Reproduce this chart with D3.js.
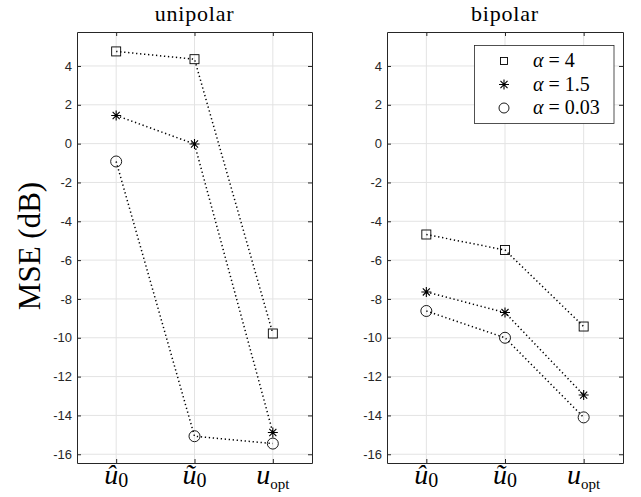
<!DOCTYPE html>
<html>
<head>
<meta charset="utf-8">
<script src="https://cdn.jsdelivr.net/npm/d3@7"></script>
<style>
  body { margin: 0; background: #fff; }
</style>
</head>
<body>
<div class="center"></div>
<script>
// categories along x
const categories = ["u0hat", "u0tilde", "uopt"];
const yTicks = [-16, -14, -12, -10, -8, -6, -4, -2, 0, 2, 4];

// MSE (dB)
const uniSquare = [4.75, 4.35, -9.78];
const uniStar = [1.45, -0.02, -14.88];
const uniCircle = [-0.92, -15.07, -15.45];
const biSquare = [-4.68, -5.48, -9.42];
const biStar = [-7.64, -8.7, -12.95];
const biCircle = [-8.62, -10.0, -14.1];

const legendLabels = ["4", "1.5", "0.03"];

const W = 641, H = 497;
const plotTop = 32, plotBottom = 463;

const svg = d3.select(".center").append("svg")
  .attr("width", W).attr("height", H)
  .style("font-family", "'Liberation Sans', Arial, sans-serif");

const yScale = d3.scaleLinear().domain([-16.45, 5.75]).range([plotBottom, plotTop]);

const panels = [
  {title: "unipolar", left: 77, right: 312, series: [uniSquare, uniStar, uniCircle]},
  {title: "bipolar", left: 387, right: 623, series: [biSquare, biStar, biCircle]}
];

const axisColor = "#262626";
const serif = "'Liberation Serif', 'DejaVu Serif', serif";
const shapes = ["square", "star", "circle"];

function drawMarker(g, shape, x, y) {
  if (shape === "square") {
    g.append("rect").attr("x", x - 4.5).attr("y", y - 4.5).attr("width", 9).attr("height", 9)
      .attr("fill", "none").attr("stroke", "#000").attr("stroke-width", 0.9);
  } else if (shape === "circle") {
    g.append("circle").attr("cx", x).attr("cy", y).attr("r", 5.5)
      .attr("fill", "none").attr("stroke", "#000").attr("stroke-width", 0.9);
  } else {
    const r = 5;
    const p = d3.path();
    [0, 45, 90, 135].forEach(a => {
      const t = a * Math.PI / 180;
      p.moveTo(x - r * Math.cos(t), y - r * Math.sin(t));
      p.lineTo(x + r * Math.cos(t), y + r * Math.sin(t));
    });
    g.append("path").attr("d", p.toString()).attr("stroke", "#000").attr("stroke-width", 1.1);
  }
}

panels.forEach(pn => {
  const xScale = d3.scalePoint().domain(categories).range([pn.left, pn.right]).padding(0.5);
  const g = svg.append("g");

  // grid
  g.selectAll(".gx").data(categories).enter().append("line")
    .attr("x1", d => xScale(d)).attr("x2", d => xScale(d))
    .attr("y1", plotTop).attr("y2", plotBottom)
    .attr("stroke", "#e3e3e3").attr("stroke-width", 1);
  g.selectAll(".gy").data(yTicks).enter().append("line")
    .attr("x1", pn.left).attr("x2", pn.right)
    .attr("y1", d => yScale(d)).attr("y2", d => yScale(d))
    .attr("stroke", "#e3e3e3").attr("stroke-width", 1);

  // axes (left with labels, right/top/bottom ticks only)
  const yAxis = d3.axisLeft(yScale).tickValues(yTicks).tickSizeInner(-4).tickSizeOuter(0)
    .tickPadding(5).tickFormat(d => String(d));
  const ya = g.append("g").attr("transform", `translate(${pn.left},0)`).call(yAxis);
  ya.select(".domain").attr("stroke", axisColor);
  ya.selectAll("line").attr("stroke", axisColor);
  ya.selectAll("text").style("font-size", "13px").attr("fill", axisColor)
    .style("font-family", "'Liberation Sans', Arial, sans-serif");

  const yr = g.append("g").attr("transform", `translate(${pn.right},0)`)
    .call(d3.axisRight(yScale).tickValues(yTicks).tickSizeInner(-4).tickSizeOuter(0).tickFormat(""));
  yr.select(".domain").attr("stroke", axisColor);
  yr.selectAll("line").attr("stroke", axisColor);

  const xb = g.append("g").attr("transform", `translate(0,${plotBottom})`)
    .call(d3.axisBottom(xScale).tickSizeInner(-4).tickSizeOuter(0).tickFormat(""));
  xb.select(".domain").attr("stroke", axisColor);
  xb.selectAll("line").attr("stroke", axisColor);
  const xt = g.append("g").attr("transform", `translate(0,${plotTop})`)
    .call(d3.axisTop(xScale).tickSizeInner(-4).tickSizeOuter(0).tickFormat(""));
  xt.select(".domain").attr("stroke", axisColor);
  xt.selectAll("line").attr("stroke", axisColor);

  // x tick labels (math style)
  const lbl = [
    {c: "u0hat", base: "\u00fb", sub: "0", subSize: 20},
    {c: "u0tilde", base: "\u0169", sub: "0", subSize: 20},
    {c: "uopt", base: "u", sub: "opt", subSize: 15}
  ];
  lbl.forEach(l => {
    const t = g.append("text")
      .attr("x", xScale(l.c)).attr("y", 484)
      .attr("text-anchor", "middle")
      .style("font-family", serif).attr("fill", "#000");
    t.append("tspan").text(l.base).style("font-style", "italic").style("font-size", "28px");
    t.append("tspan").text(l.sub).style("font-size", l.subSize + "px").attr("dy", l.sub === "0" ? 3 : 5);
  });

  // title
  g.append("text").text(pn.title)
    .attr("x", (pn.left + pn.right) / 2).attr("y", 21)
    .attr("text-anchor", "middle")
    .style("font-family", serif).style("font-size", "22px")
    .style("letter-spacing", "0.8px").attr("fill", "#000");

  // dotted lines + markers
  const line = d3.line().x((d, i) => xScale(categories[i])).y(d => yScale(d));
  pn.series.forEach((s, k) => {
    g.append("path").datum(s).attr("d", line)
      .attr("fill", "none").attr("stroke", "#000").attr("stroke-width", 1.5)
      .attr("stroke-dasharray", "1.3,2.7");
    s.forEach((v, i) => drawMarker(g, shapes[k], xScale(categories[i]), yScale(v)));
  });
});

// y label
svg.append("text").text("MSE (dB)")
  .attr("transform", "rotate(-90)")
  .attr("x", -246).attr("y", 40)
  .attr("text-anchor", "middle")
  .style("font-family", serif)
  .style("font-size", "31px").attr("fill", "#000");

// legend
const legend = svg.append("g");
legend.append("rect").attr("x", 474.5).attr("y", 45.5).attr("width", 139.5).attr("height", 78)
  .attr("fill", "#fff").attr("stroke", axisColor).attr("stroke-width", 0.8);
legendLabels.forEach((lab, i) => {
  const y = 61 + i * 23.5;
  const mg = legend.append("g");
  if (i === 0) {
    mg.append("rect").attr("x", 500.5).attr("y", y - 3.5).attr("width", 7).attr("height", 7)
      .attr("fill", "none").attr("stroke", "#000").attr("stroke-width", 0.9);
  } else if (i === 1) {
    drawMarker(mg, "star", 504, y);
  } else {
    mg.append("circle").attr("cx", 504).attr("cy", y).attr("r", 5)
      .attr("fill", "none").attr("stroke", "#000").attr("stroke-width", 0.9);
  }
  const t = legend.append("text").attr("x", 533).attr("y", y + 6)
    .style("font-family", serif)
    .style("font-size", "20px").attr("fill", "#000");
  t.append("tspan").text("\u03b1").style("font-style", "italic");
  t.append("tspan").text(" = " + lab);
});
</script>
</body>
</html>
